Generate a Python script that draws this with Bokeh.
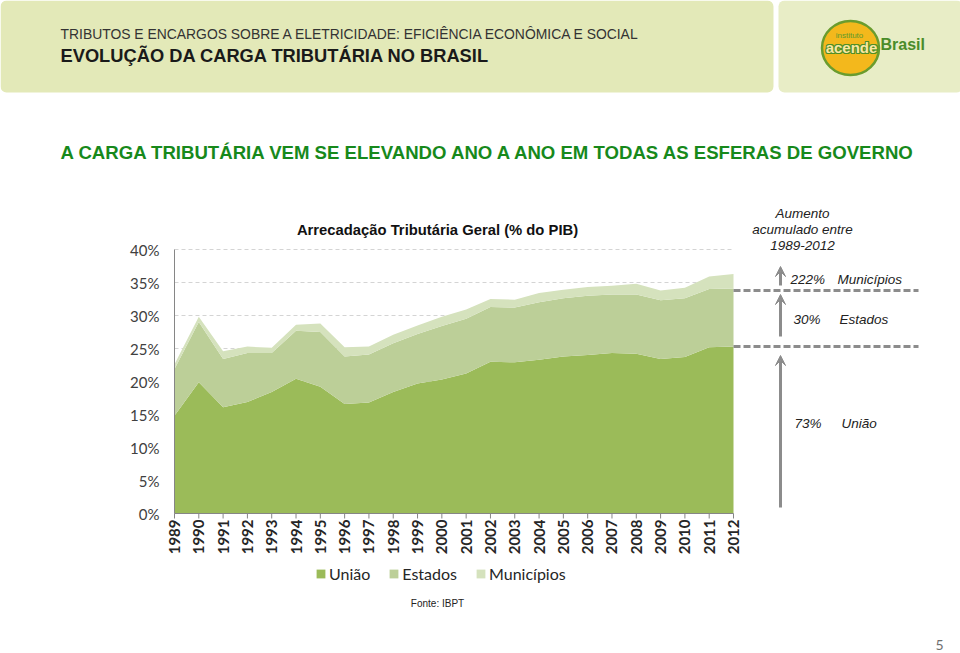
import math
from bokeh.plotting import figure
from bokeh.models import (Range1d, Label, BoxAnnotation, Arrow, VeeHead, ColumnDataSource)
from bokeh.core.properties import value
from bokeh.embed import file_html
from bokeh.resources import INLINE

# ---------------- data ----------------
years = [1989, 1990, 1991, 1992, 1993, 1994, 1995, 1996, 1997, 1998, 1999, 2000,
         2001, 2002, 2003, 2004, 2005, 2006, 2007, 2008, 2009, 2010, 2011, 2012]
uniao = [14.8, 19.9, 16.1, 16.9, 18.4, 20.4, 19.2, 16.6, 16.8, 18.4, 19.7, 20.3,
         21.2, 23.0, 22.9, 23.3, 23.8, 24.0, 24.3, 24.2, 23.4, 23.7, 25.2, 25.3]
estados = [7.1, 9.1, 7.3, 7.4, 5.9, 7.3, 8.3, 7.2, 7.3, 7.4, 7.5, 8.1,
           8.3, 8.3, 8.3, 8.7, 8.8, 9.0, 8.9, 9.0, 8.9, 8.9, 8.8, 8.8]
municipios = [0.7, 0.8, 1.2, 1.0, 0.8, 0.9, 1.3, 1.4, 1.2, 1.3, 1.3, 1.4,
              1.4, 1.2, 1.2, 1.4, 1.3, 1.3, 1.3, 1.6, 1.5, 1.6, 1.9, 2.2]
series_names = ["União", "Estados", "Municípios"]
y_ticks = [0, 5, 10, 15, 20, 25, 30, 35, 40]
y_tick_labels = ["0%", "5%", "10%", "15%", "20%", "25%", "30%", "35%", "40%"]
x_tick_labels = [str(y) for y in years]

colors = ["#9bbb59", "#bccf98", "#d5e2bd"]

W, H = 960, 653
# plot area in page pixels
PX_LEFT, PX_RIGHT, PX_TOP, PX_BOTTOM = 174, 733, 249, 513
X0, X1 = years[0], years[-1]
Y0, Y1 = y_ticks[0], y_ticks[-1]
ppx = (PX_RIGHT - PX_LEFT) / (X1 - X0)
ppy = (PX_BOTTOM - PX_TOP) / (Y1 - Y0)

x_range = Range1d(X0 - PX_LEFT / ppx, X0 + (W - PX_LEFT) / ppx)
y_range = Range1d(Y0 - (H - PX_BOTTOM) / ppy, Y0 + PX_BOTTOM / ppy)

p = figure(width=W, height=H, x_range=x_range, y_range=y_range,
           output_backend="svg", toolbar_location=None, title=None,
           x_axis_location=None, y_axis_location=None,
           min_border=0, min_border_left=0, min_border_right=0,
           min_border_top=0, min_border_bottom=0)
p.outline_line_color = None
p.background_fill_color = "white"
p.border_fill_color = "white"
p.grid.visible = False
p.extra_x_ranges = {"px": Range1d(0, W)}
p.extra_y_ranges = {"px": Range1d(H, 0)}

def sx(px):
    return px
def sy(py):
    return H - py

def box(l, r, t, b, fill, line=None, lw=1, radius=0):
    p.add_layout(BoxAnnotation(left=sx(l), right=sx(r), top=sy(t), bottom=sy(b),
                               left_units="screen", right_units="screen",
                               top_units="screen", bottom_units="screen",
                               fill_color=fill, fill_alpha=1, line_color=line, line_width=lw,
                               border_radius=radius, level="underlay"))

def text(px, py, s, size, color="#000000", style="normal", font="Liberation Sans",
         align="left", baseline="middle"):
    p.add_layout(Label(x=sx(px), y=sy(py), x_units="screen", y_units="screen", text=s,
                       text_font=font, text_font_size=f"{size}px", text_color=color,
                       text_font_style=style, text_align=align, text_baseline=baseline))

def ptext(px, py, s, size, color, style="normal", align="center", dx=0, dy=0):
    p.text(x=[px], y=[py], text=[s], x_range_name="px", y_range_name="px",
           x_offset=dx, y_offset=dy,
           text_font=value("Liberation Sans"), text_font_style=style,
           text_font_size=f"{size}px", text_color=color, text_align=align,
           text_baseline="middle")

# header band and logo box
box(0, 773, 0, 92, "#e3e9b8", radius=6)
box(778, 962, 0, 92, "#e8edc6", radius=6)

# ---------------- chart ----------------
src = ColumnDataSource(dict(year=years, uniao=uniao, estados=estados, municipios=municipios))

# grid lines (behind areas)
grid_vals = y_ticks[1:]
p.segment(x0=[X0] * len(grid_vals), y0=grid_vals, x1=[X1] * len(grid_vals), y1=grid_vals,
          line_color="#d4d4d4", line_dash="4 3", line_width=1)

p.varea_stack(["uniao", "estados", "municipios"], x="year", source=src,
              color=colors, legend_label=series_names)

# axis lines and ticks
p.segment(x0=[X0], y0=[Y0], x1=[X0], y1=[Y1], line_color="#868686", line_width=1)
p.segment(x0=[X0], y0=[Y0], x1=[X1], y1=[Y0], line_color="#868686", line_width=1)
p.ray(x=years, y=[Y0] * len(years), length=5, length_units="screen", angle=-math.pi / 2,
      line_color="#868686", line_width=1)

# tick labels
p.text(x=[X0] * len(y_ticks), y=y_ticks, text=y_tick_labels, x_offset=-15,
       text_font=value("Lato"), text_font_size="15px", text_color="#404040",
       text_align="right", text_baseline="middle")
p.text(x=years, y=[Y0] * len(years), text=x_tick_labels, y_offset=6, angle=math.pi / 2,
       text_font=value("Lato"), text_font_style="bold", text_font_size="15px",
       text_color="#262626", text_align="right", text_baseline="middle")

# legend
lg = p.legend[0]
lg.location = (315, H - 583)
lg.orientation = "horizontal"
lg.background_fill_alpha = 0
lg.border_line_color = None
lg.padding = 0
lg.margin = 0
lg.spacing = 18
lg.glyph_width = 11
lg.glyph_height = 11
lg.label_standoff = 3
lg.label_height = 16
lg.label_text_font = "Lato"
lg.label_text_font_size = "16px"
lg.label_text_color = "#262626"

# logo
p.ellipse(x=[850], y=[47.5], width=[57], height=[54], x_range_name="px", y_range_name="px",
          fill_color="#f3b81c", line_color="#6a9c2e", line_width=2.5)
for ddx, ddy in [(-1, 0), (1, 0), (0, -1), (0, 1), (-1, -1), (1, 1), (-1, 1), (1, -1)]:
    ptext(851, 47, "acende", 15, "#4f8f27", style="bold", dx=ddx, dy=ddy)
ptext(851, 47, "acende", 15, "#fbe7a2", style="bold")
ptext(849, 35, "instituto", 8, "#5d9a2c")
ptext(880, 44, "Brasil", 16, "#4a8c2a", style="bold", align="left")

# texts
text(60, 33, "TRIBUTOS E ENCARGOS SOBRE A ELETRICIDADE: EFICIÊNCIA ECONÔMICA E SOCIAL", 13.9,
     color="#333333")
text(60, 55, "EVOLUÇÃO DA CARGA TRIBUTÁRIA NO BRASIL", 18.3, color="#1a1a1a", style="bold")

text(60, 152, "A CARGA TRIBUTÁRIA VEM SE ELEVANDO ANO A ANO EM TODAS AS ESFERAS DE GOVERNO", 18.6,
     color="#17891b", style="bold")

text(437, 229, "Arrecadação Tributária Geral (% do PIB)", 14.8, color="#111111", style="bold",
     align="center")

for yy, s in [(213, "Aumento"), (229, "acumulado entre"), (245, "1989-2012")]:
    text(802, yy, s, 13.5, color="#222222", style="italic", align="center")
for px1, px2, yy, pct, name in [(790, 837, 279, "222%", "Municípios"),
                                (793, 839, 319, "30%", "Estados"),
                                (794, 841, 423, "73%", "União")]:
    text(px1, yy, pct, 13.5, color="#222222", style="italic")
    text(px2, yy, name, 13.5, color="#222222", style="italic")

GRAY = "#8c8c8c"
for yy in (290, 346):
    p.add_layout(Arrow(x_start=sx(733), y_start=sy(yy), x_end=sx(918), y_end=sy(yy),
                       start_units="screen", end_units="screen", start=None, end=None,
                       line_color=GRAY, line_width=3, line_dash="7 3"))
for y0, y1 in [(285, 266), (336, 294), (507, 355)]:
    p.add_layout(Arrow(x_start=sx(780), y_start=sy(y0), x_end=sx(780), y_end=sy(y1),
                       start_units="screen", end_units="screen",
                       end=VeeHead(size=10, fill_color=GRAY, line_color=GRAY),
                       line_color=GRAY, line_width=3))

text(437, 603, "Fonte: IBPT", 10, color="#222222", align="center")
text(939, 644, "5", 14, color="#6f6f6f", font="Lato", align="center")

open("out.html", "w").write(file_html(p, INLINE))
